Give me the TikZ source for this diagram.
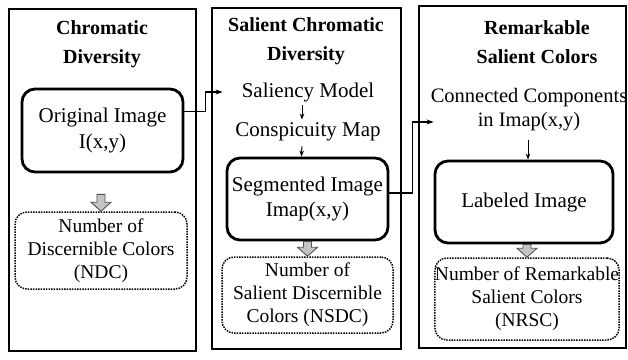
\documentclass[tikz,border=0pt]{standalone}
\usepackage{fontspec}
\setmainfont{Liberation Serif}
\usetikzlibrary{arrows.meta,calc}
\definecolor{gfill}{HTML}{C4C4C4}
\definecolor{gline}{HTML}{505050}
\tikzset{
  panel/.style={draw, line width=1.6pt, inner sep=0pt},
  paneltitle/.style={font=\fontsize{20}{29.5}\selectfont\bfseries, align=center, inner sep=1pt},
  mainbox/.style={draw, line width=2.8pt, rounded corners=13pt, align=center, font=\fontsize{21}{25.5}\selectfont, inner sep=0pt},
  resbox/.style={draw, line width=1.5pt, dash pattern=on 1.5pt off 1.1pt, rounded corners=12pt, align=center, font=\fontsize{19.5}{23}\selectfont, inner sep=0pt},
  txtlabel/.style={align=center, font=\fontsize{21}{24}\selectfont, inner sep=1pt},
  conn/.style={line width=1.2pt, -{Stealth[length=7pt,width=5pt]}},
  tarrow/.style={line width=1pt, -{Stealth[length=6pt,width=4.5pt]}},
  gblock/.style={fill=gfill, draw=gline, line width=0.9pt, line join=miter},
}
\newcommand\grayarr[2]{%
  \path[gblock] let \p1=#1, \p2=#2 in
    (\x2-4pt,\y1) -- (\x2+4pt,\y1) -- (\x2+4pt,\y2+9pt) -- (\x2+10pt,\y2+9pt)
    -- (\x2,\y2) -- (\x2-10pt,\y2+9pt) -- (\x2-4pt,\y2+9pt) -- cycle;}
\begin{document}
\begin{tikzpicture}[x=1pt,y=-1pt]
\useasboundingbox (0,0) rectangle (628,359);
% panels
\node[panel, minimum width=187pt, minimum height=342pt] (p1) at (102.5,180) {};
\node[panel, minimum width=189pt, minimum height=341pt] (p2) at (306.5,178.5) {};
\node[panel, minimum width=207pt, minimum height=342pt] (p3) at (522.5,177) {};
% titles
\node[paneltitle] (t1) at (102,44) {Chromatic\\Diversity};
\node[paneltitle] (t2) at (306,41) {Salient Chromatic\\Diversity};
\node[paneltitle] (t3) at (537,42) {Remarkable\\Salient Colors};
% panel 1
\node[mainbox, minimum width=161pt, minimum height=83pt] (oi) at (102.5,130.5) {Original Image\\I(x,y)};
\node[resbox, minimum width=172pt, minimum height=77pt] (ndc) at (101,250.5) {Number of\\Discernible Colors\\(NDC)};
% panel 2
\node[txtlabel] (sal) at (308,92) {Saliency Model};
\node[txtlabel] (con) at (308,132) {Conspicuity Map};
\node[mainbox, minimum width=161pt, minimum height=82pt] (seg) at (307.5,199) {Segmented Image\\Imap(x,y)};
\node[resbox, minimum width=171pt, minimum height=76pt] (nsdc) at (307.5,295) {Number of\\Salient Discernible\\Colors (NSDC)};
% panel 3
\node[txtlabel, font=\fontsize{20.5}{24}\selectfont] (cc) at (529,110) {Connected Components\\in Imap(x,y)};
\node[mainbox, minimum width=178pt, minimum height=82pt] (lab) at (524,202) {Labeled Image};
\node[resbox, minimum width=182pt, minimum height=82pt] (nrsc) at (527,299) {Number of Remarkable\\Salient Colors\\(NRSC)};
% small arrows
\draw[tarrow, shorten <=2pt, shorten >=2pt] ([xshift=-6pt]sal.south) -- ([xshift=-6pt]con.north);
\draw[tarrow, shorten <=4pt] ([xshift=-6pt]con.south) -- ([xshift=-6pt]seg.north);
\draw[tarrow, shorten <=7pt] ([xshift=-1pt]cc.south) -- ([xshift=-1pt]cc.south |- lab.north);
% connectors
\draw[conn] ([yshift=19pt]oi.east) -- ++(21,0) |- ([xshift=-18pt]sal.west);
\draw[conn] ([yshift=6pt]seg.east) -- ++(23,0) |- ([shift={(4pt,-12pt)}]cc.west);
% gray block arrows
\grayarr{([yshift=-21pt]oi.south)}{(ndc.north)}
\grayarr{(seg.south)}{(nsdc.north)}
\grayarr{(lab.south)}{(nrsc.north)}
\end{tikzpicture}
\end{document}
